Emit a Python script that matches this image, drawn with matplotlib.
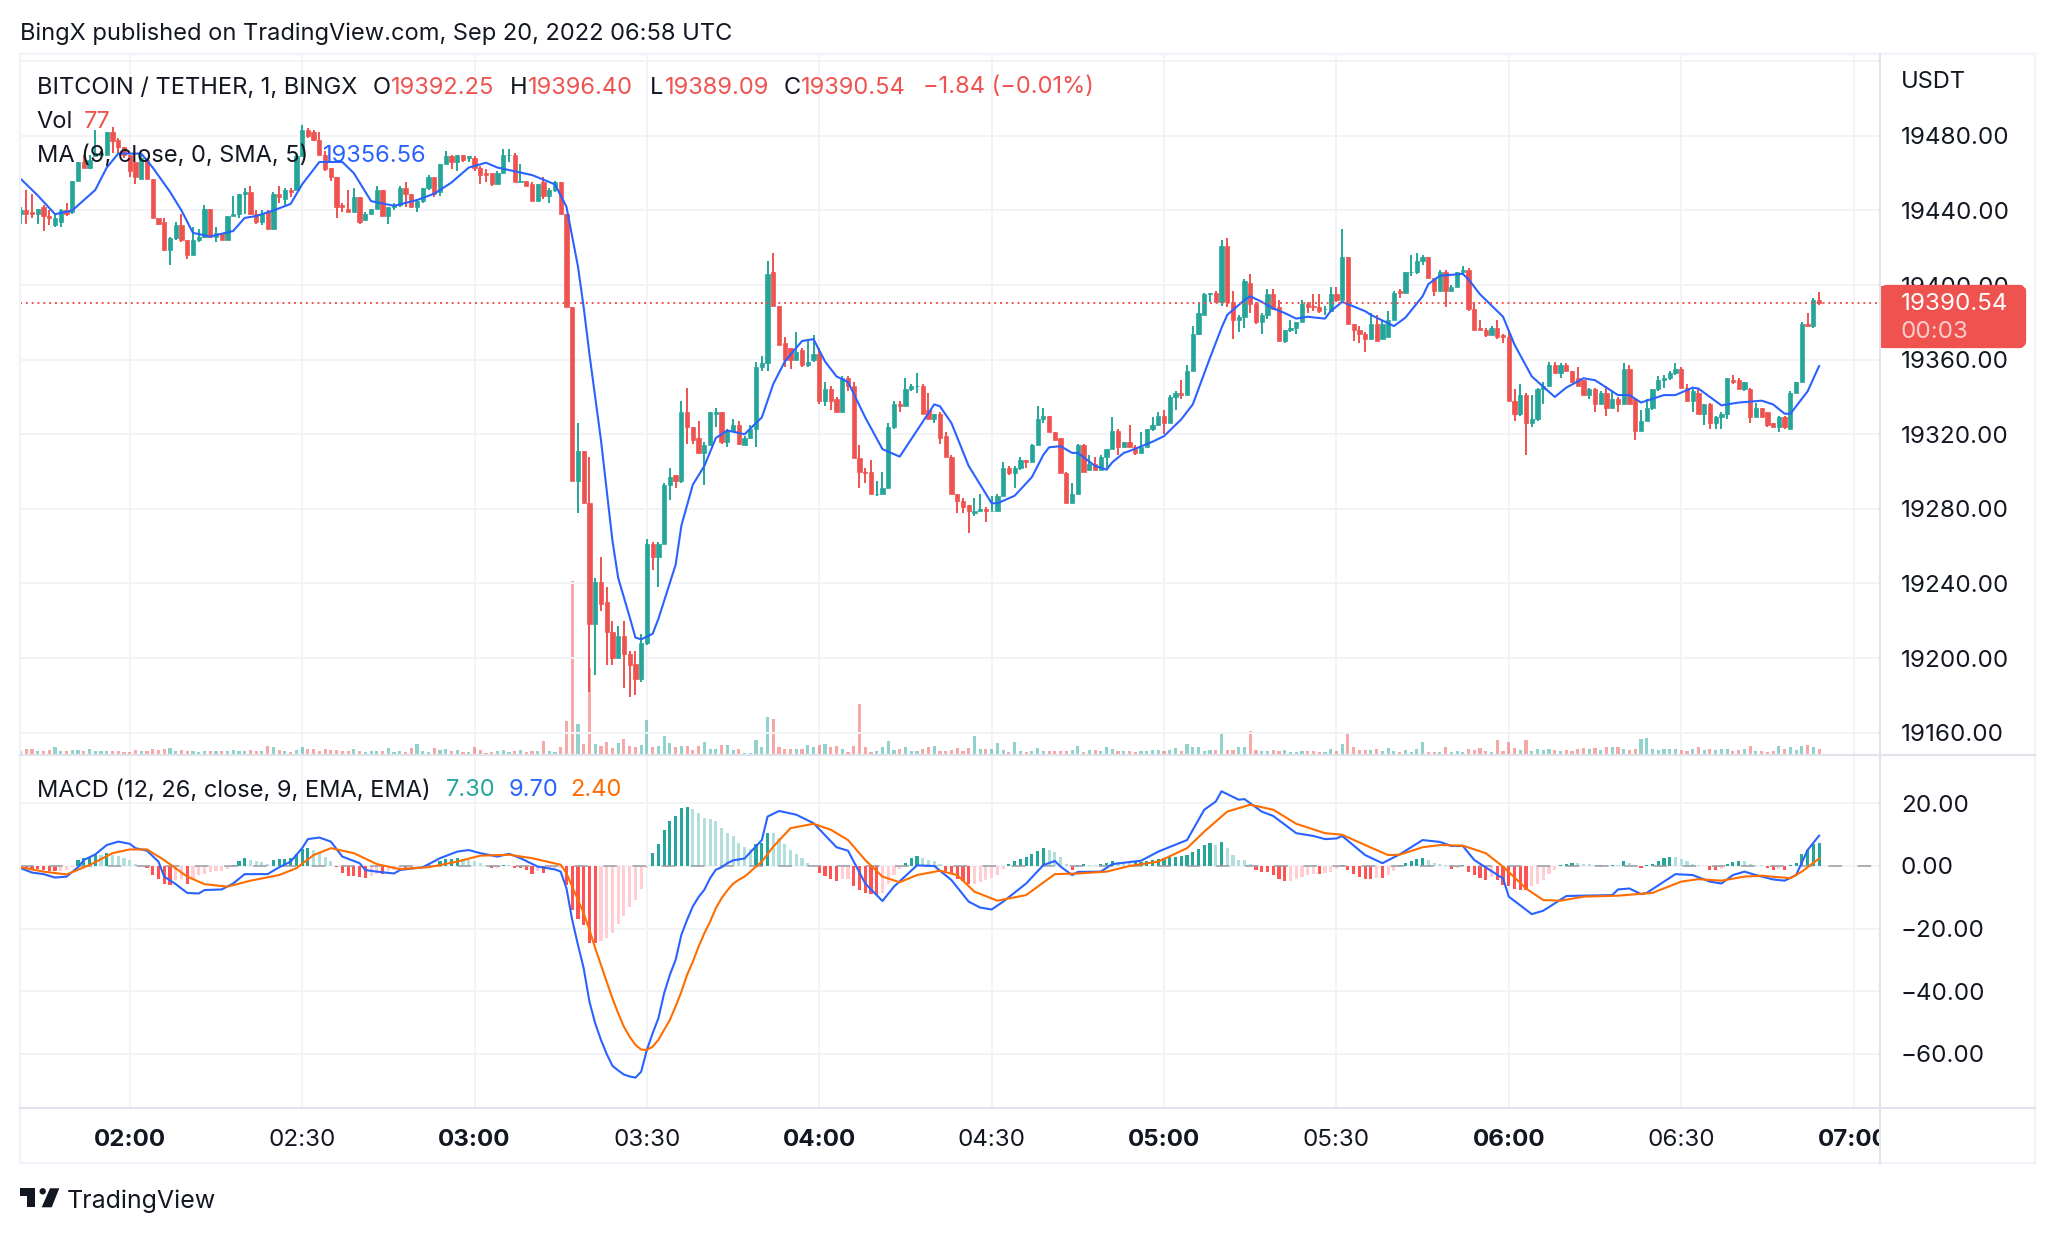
import numpy as np
import matplotlib
matplotlib.use('Agg')
import matplotlib.pyplot as plt
from matplotlib.patches import Rectangle, Polygon, Circle, FancyBboxPatch

plt.rcParams['font.family'] = ['Inter', 'DejaVu Sans']

# candles, one per minute, minutes counted from 02:00
first_minute = -19
opens = [
    19438,19440,19439,19438,19442,19437,19432,19434,19440,19439,
    19456,19466,19463,19469,19470,19470,19482,19478,19474,19470,
    19466,19457,19467,19457,19436,19434,19419,19425,19432,19424,
    19416,19424,19426,19441,19426,19428,19424,19437,19438,19449,
    19450,19438,19434,19439,19430,19449,19446,19451,19451,19469,
    19483,19482,19478,19470,19463,19458,19443,19441,19439,19447,
    19435,19438,19441,19451,19437,19442,19443,19452,19449,19442,
    19445,19452,19458,19450,19465,19469,19466,19470,19468,19468,
    19463,19460,19460,19454,19460,19470,19470,19455,19456,19454,
    19445,19455,19448,19451,19455,19438,19388,19295,19311,19283,
    19218,19241,19230,19214,19200,19212,19202,19197,19189,19208,
    19261,19254,19261,19293,19298,19295,19332,19324,19318,19310,
    19314,19331,19332,19316,19322,19325,19314,19318,19323,19356,
    19358,19407,19389,19369,19366,19360,19365,19357,19360,19363,
    19338,19344,19339,19332,19350,19346,19307,19300,19300,19288,
    19288,19291,19324,19336,19335,19344,19346,19346,19333,19328,
    19331,19319,19308,19288,19284,19282,19278,19279,19280,19279,
    19279,19287,19302,19299,19302,19306,19305,19314,19328,19330,
    19321,19318,19299,19283,19288,19314,19301,19304,19301,19308,
    19312,19322,19313,19316,19313,19310,19313,19323,19325,19330,
    19326,19340,19342,19341,19354,19374,19384,19395,19396,19391,
    19421,19391,19381,19383,19401,19390,19380,19384,19395,19388,
    19370,19376,19377,19380,19390,19389,19388,19387,19386,19395,
    19392,19415,19379,19376,19374,19371,19379,19371,19372,19381,
    19397,19396,19407,19407,19413,19415,19404,19397,19407,19397,
    19399,19407,19408,19387,19377,19376,19373,19377,19373,19372,
    19338,19331,19341,19326,19328,19344,19346,19357,19353,19357,
    19354,19350,19349,19341,19344,19336,19342,19334,19339,19336,
    19355,19339,19322,19327,19334,19344,19349,19350,19353,19355,
    19345,19338,19342,19331,19336,19326,19329,19331,19349,19349,
    19344,19344,19329,19334,19332,19326,19324,19329,19323,19342,
    19348,19379,19378,19392.25]
closes = [
    19440,19438,19438,19441,19437,19436,19436,19440,19438,19456,
    19466,19463,19467,19471,19471,19482,19477,19474,19470,19461,
    19458,19468,19457,19436,19433,19419,19425,19432,19424,19416,
    19424,19426,19441,19426,19428,19424,19437,19438,19449,19450,
    19438,19434,19438,19430,19449,19447,19451,19450,19469,19483,
    19480,19478,19470,19462,19458,19442,19442,19439,19447,19434,
    19438,19441,19451,19437,19442,19443,19452,19449,19442,19445,
    19452,19458,19449,19465,19469,19466,19470,19467,19469,19463,
    19459,19459,19454,19460,19470,19470,19455,19456,19453,19445,
    19454,19448,19451,19455,19438,19388,19295,19311,19283,19218,
    19241,19229,19214,19200,19212,19202,19196,19189,19208,19261,
    19254,19261,19293,19297,19295,19332,19324,19317,19310,19314,
    19332,19332,19316,19322,19325,19315,19318,19323,19356,19358,
    19406,19389,19368,19360,19360,19364,19357,19359,19363,19338,
    19344,19338,19332,19350,19346,19307,19300,19299,19288,19288,
    19291,19324,19336,19335,19344,19346,19346,19331,19328,19331,
    19318,19308,19288,19284,19281,19279,19279,19280,19279,19279,
    19287,19302,19299,19302,19306,19305,19314,19328,19330,19321,
    19317,19299,19283,19288,19314,19300,19304,19301,19308,19312,
    19322,19313,19316,19313,19310,19313,19323,19325,19330,19326,
    19340,19342,19341,19354,19374,19385,19395,19396,19391,19421,
    19391,19381,19383,19402,19390,19380,19384,19395,19387,19370,
    19376,19377,19380,19390,19388,19388,19386,19387,19395,19392,
    19415,19379,19376,19374,19371,19379,19370,19379,19381,19396,
    19396,19407,19407,19413,19415,19404,19397,19407,19397,19399,
    19407,19408,19387,19376,19376,19373,19377,19372,19372,19338,
    19331,19341,19326,19328,19344,19346,19357,19353,19357,19354,
    19348,19346,19341,19344,19336,19342,19334,19339,19336,19355,
    19336,19322,19327,19334,19344,19349,19350,19353,19355,19345,
    19338,19343,19331,19336,19326,19329,19331,19350,19348,19344,
    19348,19329,19334,19329,19325,19324,19329,19324,19342,19348,
    19379,19378,19392,19390.54]
highs = [
    19442,19451,19449,19441,19443,19440,19438,19441,19444,19456,
    19466,19470,19470,19483,19472,19482,19485,19479,19474,19470,
    19466,19470,19468,19457,19436,19436,19426,19434,19438,19424,
    19431,19430,19443,19441,19431,19428,19437,19448,19449,19452,
    19453,19440,19440,19440,19450,19453,19452,19452,19470,19486,
    19484,19483,19482,19472,19463,19458,19444,19451,19452,19447,
    19439,19441,19453,19451,19442,19444,19453,19455,19449,19446,
    19452,19459,19458,19465,19472,19470,19470,19470,19469,19469,
    19464,19462,19460,19461,19473,19473,19471,19465,19456,19455,
    19454,19458,19452,19456,19455,19438,19388,19326,19311,19308,
    19243,19254,19238,19220,19217,19220,19204,19204,19213,19264,
    19262,19262,19294,19302,19298,19338,19345,19324,19327,19316,
    19332,19334,19332,19323,19328,19327,19319,19325,19359,19362,
    19413,19417,19389,19372,19366,19375,19366,19370,19373,19366,
    19348,19346,19340,19351,19351,19348,19314,19302,19306,19295,
    19300,19326,19338,19338,19350,19347,19353,19347,19342,19331,
    19332,19321,19309,19288,19286,19282,19286,19288,19281,19287,
    19288,19305,19303,19303,19308,19306,19315,19335,19334,19330,
    19321,19318,19300,19294,19315,19315,19309,19308,19309,19312,
    19329,19323,19316,19325,19314,19321,19323,19329,19332,19333,
    19341,19343,19349,19357,19378,19391,19396,19396,19397,19424,
    19425,19397,19384,19403,19406,19391,19385,19398,19398,19392,
    19376,19381,19380,19392,19391,19395,19395,19389,19399,19399,
    19430,19415,19379,19378,19375,19385,19384,19381,19386,19397,
    19398,19407,19416,19417,19416,19415,19404,19408,19408,19400,
    19407,19410,19409,19391,19381,19377,19378,19381,19374,19376,
    19344,19347,19342,19341,19345,19348,19359,19359,19358,19358,
    19354,19356,19349,19345,19345,19343,19346,19343,19340,19358,
    19357,19339,19333,19339,19344,19351,19352,19354,19358,19356,
    19347,19344,19345,19336,19337,19330,19332,19350,19352,19350,
    19348,19345,19337,19334,19332,19326,19330,19330,19343,19348,
    19380,19385,19393,19396.4]
lows = [
    19433,19433,19436,19433,19429,19432,19431,19431,19437,19438,
    19456,19463,19462,19469,19469,19470,19471,19471,19468,19458,
    19454,19457,19457,19436,19432,19418,19411,19424,19423,19414,
    19416,19423,19425,19426,19423,19424,19424,19437,19436,19438,
    19438,19433,19432,19430,19430,19444,19443,19447,19451,19469,
    19479,19477,19470,19461,19456,19436,19439,19439,19439,19433,
    19435,19438,19441,19437,19433,19440,19442,19442,19442,19439,
    19444,19451,19447,19448,19465,19462,19461,19466,19466,19461,
    19454,19455,19453,19454,19460,19466,19455,19455,19453,19445,
    19445,19446,19444,19450,19438,19388,19295,19278,19283,19182,
    19191,19225,19196,19196,19200,19184,19179,19180,19187,19207,
    19247,19238,19261,19285,19291,19294,19315,19315,19310,19293,
    19314,19324,19315,19313,19321,19314,19314,19318,19313,19354,
    19354,19389,19368,19356,19355,19360,19356,19356,19359,19336,
    19335,19333,19332,19332,19343,19307,19291,19294,19288,19287,
    19288,19291,19323,19332,19335,19343,19342,19331,19328,19326,
    19315,19308,19288,19278,19278,19267,19276,19279,19273,19279,
    19279,19287,19298,19291,19301,19302,19305,19314,19326,19321,
    19317,19299,19283,19283,19288,19300,19301,19301,19301,19301,
    19312,19309,19313,19313,19309,19310,19313,19322,19325,19320,
    19326,19333,19339,19341,19354,19373,19384,19391,19391,19389,
    19388,19371,19375,19377,19385,19379,19374,19382,19387,19370,
    19369,19375,19374,19380,19385,19386,19385,19384,19386,19391,
    19392,19379,19370,19369,19364,19371,19370,19371,19372,19381,
    19393,19396,19405,19406,19411,19404,19394,19397,19388,19397,
    19399,19406,19386,19376,19376,19372,19373,19371,19369,19338,
    19327,19330,19309,19324,19327,19336,19346,19353,19350,19354,
    19348,19346,19341,19339,19332,19336,19330,19334,19332,19336,
    19336,19317,19322,19327,19333,19343,19345,19349,19352,19345,
    19338,19332,19331,19325,19323,19323,19323,19328,19347,19344,
    19343,19326,19329,19329,19324,19324,19321,19323,19323,19342,
    19348,19378,19377,19389.09]
volumes = [
    52,77,77,52,52,65,103,52,52,65,
    65,52,77,52,52,52,52,52,39,39,
    65,52,52,77,65,77,90,52,65,52,
    52,39,52,52,52,52,52,65,52,52,
    65,52,52,116,103,65,52,39,65,103,
    77,77,52,77,65,65,52,52,77,52,
    39,52,52,52,90,39,52,39,90,142,
    52,39,90,65,77,52,65,39,39,103,
    65,26,39,52,65,39,52,65,39,52,
    48,180,48,38,105,437,2232,399,143,1116,
    143,119,166,95,152,200,119,105,128,451,
    105,119,247,152,105,119,119,62,119,162,
    71,81,128,128,62,71,29,29,190,105,
    489,466,105,71,71,71,71,124,105,124,
    143,105,114,71,38,119,656,105,38,48,
    105,181,62,71,105,57,57,71,105,119,
    48,57,62,86,57,86,247,71,71,71,
    152,65,39,168,52,39,52,90,52,52,
    52,52,52,65,116,39,65,65,52,103,
    77,52,52,52,39,52,52,65,65,52,
    65,90,52,142,103,103,52,65,65,271,
    65,65,103,103,310,65,52,52,65,52,
    65,39,39,52,52,52,39,39,77,52,
    142,271,103,65,65,65,77,52,90,52,
    39,65,39,77,168,39,39,39,103,39,
    52,39,77,65,90,52,39,194,52,168,
    90,65,194,52,77,65,77,65,52,65,
    52,77,90,77,90,65,103,103,103,77,
    65,77,206,219,77,65,77,77,77,65,
    52,77,103,65,77,65,77,77,52,65,
    77,116,52,52,39,52,116,77,103,65,
    116,129,103,77]
macd_hist = [
    -0.8,-0.9,-1,-1,-1.2,-1.5,-1.6,-1.5,-1.2,-0.3,
    2,2.6,3,3.5,3.4,4.2,3.4,3.2,2.5,1.8,
    0.5,0.3,-0.5,-2.9,-4.2,-5.8,-6,-4.5,-4,-5.8,
    -4.5,-3,-2.5,-1.8,-1.7,-1.5,-1,0.3,1.7,2.4,
    2,1.6,1.2,0.5,1.8,2.2,2.3,2.6,3.8,5.5,
    5.6,5,4,2.9,1.5,-0.2,-2.2,-3.3,-3.3,-3.5,
    -3.9,-3.2,-2.4,-2.7,-1.5,-1.2,-1,-1,-0.8,-0.5,
    0,0.3,0.3,1.5,2.1,2.3,2.5,2.2,1.9,1.7,
    0.8,0.4,-0.7,-0.6,0.2,0.2,-0.5,-0.8,-1.2,-2.4,
    -1.7,-2.3,-1,-0.8,-0.5,-6,-14,-17,-19,-24.5,
    -24.5,-24,-23,-21.5,-18.5,-16,-13,-11,-7.5,-0.5,
    4,7,11.5,14.5,16,18.5,19,18.3,17,15.3,
    14.9,14.3,12,10.5,9.5,7.5,6.2,5.5,6.9,7.3,
    10.7,10.6,9,7,5.2,3.8,2.4,1,0.2,-2.2,
    -3.3,-4.3,-4.9,-4.2,-4,-6.4,-7.6,-8.5,-8.9,-9.3,
    -8.6,-5.8,-3,-1,1,2.6,3.2,2.6,2,1.6,
    0.6,-1.7,-2.4,-4.2,-4.9,-5.9,-5.6,-5,-4.6,-3.9,
    -2.8,-1,0.6,1.5,2.3,3,3.7,4.9,5.6,5,
    4.5,2.8,0.5,-1.2,0.4,0.5,0.4,0.2,0.5,1,
    1.5,1.2,1,1,1.2,1.3,1.6,1.9,2.1,2.6,
    2.8,3,3.1,3.6,4.6,5.5,6.6,7.2,6.8,7.8,
    5.6,3.5,2,2,0.7,-1.2,-1.9,-2,-2.9,-4.1,
    -4.9,-4.8,-4,-3.4,-2.9,-2.7,-2.7,-2.2,-1.9,-1,
    0.4,-1.2,-2.7,-3.6,-4,-4,-3.8,-3.8,-3,-1.5,
    0.3,1,1.5,2.3,2.6,2,1,0.5,0.2,-0.9,
    -0.5,0.3,-1.8,-3,-3.7,-4.5,-3.5,-4.5,-6,-6.5,
    -7.5,-7.7,-7.8,-6.5,-5.8,-4.5,-2.7,-1.3,0.3,0.7,
    1,1,0.5,0.5,0.2,0.4,0.1,0.3,0.2,1.5,
    1,0.3,-0.7,0.2,0.7,1.7,2.4,2.9,2.8,2.3,
    1.5,0.7,0.3,0.1,-1.2,-1.4,-1.1,0.7,1.3,1.5,
    1.5,0.6,0.4,0.2,-0.5,-1.2,-1,-1.2,0.3,0.9,
    3.7,5,7,7.3]

# lines read at their bends
ma_minutes = [-19,-16,-13,-10,-6,-4,-2,2,4,7,9,11,14,18,20,22,25,28,30,33,37,39,42,46,50,53,56,59,62,64,70,74,
              76,78,79,80,82,84,85,87,88,89,91,92,95,96,98,100,102,104,107,110,112,114,117,119,121,123,125,128,
              131,134,140,141,143,146,150,151,154,157,159,160,162,164,165,168,170,171,173,174,178,180,183,185,
              188,190,191,194,195,197,199,201,203,205,208,209,211,215,216,220,222,225,226,228,232,233,235,239,
              241,244,248,250,253,255,259,261,263,267,269,272,273,277,280,284,286,288,289,292,294]
ma_values = [19457,19448,19438,19440,19451,19463,19470.5,19470.5,19463,19450,19440,19428,19426,19429,19436,19437,
             19440,19443.5,19454,19466,19466,19460,19445,19442.5,19445.6,19449,19455,19463,19465.6,19463,19459,19454,
             19442,19410,19388,19363,19317,19263,19243,19222,19211,19210,19213,19221,19250,19271,19293,19303,19318,
             19322,19320,19329,19347,19359,19370,19371,19359,19351,19348,19329,19312,19308,19336,19335,19326,19303,
             19283,19283,19287,19297,19309,19313,19313.6,19310,19310,19303,19301,19305,19310,19311,19316,19319,19328,
             19336,19361,19377,19384,19392,19394,19391,19387.5,19385,19382,19383,19382,19386,19391,19386,19384,19378,
             19382.5,19394,19400.5,19405,19406,19403,19395,19383,19368,19351,19340,19345,19350,19349,19341,19341,
             19337,19341,19341,19345,19344.5,19335.5,19337,19338,19336,19331,19331,19343,19356.56]
macd_minutes = [-19,-17,-15,-13,-11,-9,-8,-6,-4,-2,0,1,3,5,6,8,10,12,13,16,18,20,24,26,28,30,31,33,35,37,40,41,43,46,47,
                51,54,57,59,61,64,66,68,71,74,75,76,77,78,79,80,81,82,83,84,85,86,87,88,89,90,91,92,93,94,95,96,97,98,
                99,100,101,102,103,104,105,107,110,111,113,116,
                119,123,125,128,131,133,137,140,143,146,148,150,152,156,159,161,162,164,165,169,171,176,179,184,187,
                189,190,193,194,197,199,203,206,208,210,211,215,218,221,225,228,230,232,234,239,240,244,246,250,258,
                259,261,263,264,269,272,275,277,279,281,283,286,288,290,292,294]
macd_values = [-0.7,-2.1,-2.6,-3.7,-3.4,-0.4,1.9,3.7,6.7,7.8,7.1,5.7,4.9,1.4,-3.4,-5.8,-8.6,-8.8,-7.7,-7.5,-5.6,-2.6,-2.6,
               -0.4,1.4,5.7,8.6,9.1,7.8,3,0.9,-1.3,-1.8,-2.4,-1.3,-0.4,2.5,4.6,5.1,4.1,3,3.9,2.5,-0.2,-1.1,
               -1.8,-7.1,-17.2,-25.2,-32.7,-43.4,-50.3,-55.6,-60.1,-63.9,-65.4,-66.7,-67.3,-67.7,-65.8,-58.8,-53.5,-48.7,
               -40.7,-34.8,-30,-22,-17.2,-12.9,-9.9,-7.6,-3.9,-1.2,-0.4,0.9,1.8,2.4,8.3,15.8,17.6,16.4,
               13.7,6,4.9,-5.6,-11.2,-6.6,0.2,0,-4.5,-11.4,-13.3,-13.9,-11.4,-5.6,0.3,1.6,-0.2,-2.9,-1.9,-1.8,0.6,1.7,
               4.6,8.3,18,20.6,23.9,21.2,21.4,17.4,16,10.5,9.6,8.6,8.8,9.6,3.5,0.9,3.7,8.3,7.7,6.4,6.4,1.9,-4,-9.8,
               -15.4,-14.3,-9.6,-9.3,-7.5,-7.2,-9,-8.6,-2.6,-2.9,-5,-5.6,-2.9,-1.8,-2.9,-4.3,-4.7,-2.9,5.1,9.7]
signal_minutes = [-19,-15,-11,-7,-3,0,3,6,10,13,17,21,26,29,32,35,39,43,47,52,57,61,66,70,
                  75,76,77,78,79,80,81,82,83,84,85,86,87,88,89,90,91,92,93,94,95,96,97,98,99,100,101,102,103,104,105,
                  106,107,108,109,110,112,115,119,122,125,128,131,134,137,141,144,147,151,156,161,165,170,174,179,184,187,191,
                  195,199,203,208,211,215,219,221,225,228,232,236,239,243,246,249,253,259,265,270,273,277,281,284,289,
                  291,294]
signal_values = [-0.4,-1.8,-2.7,0.3,4.1,5.3,5.3,1.9,-3.4,-5.8,-6.6,-4.7,-2.9,-0.7,3.5,5.7,4.1,0.6,-1,-0.4,1.4,3.3,3.6,2.5,
                 0.4,-2.3,-6.6,-10.8,-15.1,-20.4,-26.3,-31.6,-37,-42.3,-47.1,-51.4,-54.6,-57.2,-58.7,-58.8,-57.8,-55.6,
                 -52.4,-49.2,-44.9,-40.2,-34.8,-30.6,-25.8,-21.5,-17.8,-13.5,-10.3,-7.8,-5.7,-4.4,-3.4,-1.8,-0.2,1.4,
                 6.2,12.1,13.5,11.6,8.3,1.9,-3.4,
                 -5.2,-2.9,-1.5,-2.9,-8.2,-11.1,-9.3,-2.6,-2.4,-1.8,0,1.4,5.7,11,17.4,19.6,18,13.5,10.5,10,6.7,3.5,3.6,
                 6,6.7,6.5,4.1,-0.2,-7.2,-10.9,-11.1,-9.8,-9.5,-8.6,-5,-4.2,-4.7,-3.4,-3.1,-3.9,-1.8,2.4]

price_ticks = [19520,19480,19440,19400,19360,19320,19280,19240,19200,19160]
price_labels = ['','19480.00','19440.00','19400.00','19360.00','19320.00','19280.00','19240.00','19200.00','19160.00']
macd_ticks = [20,0,-20,-40,-60]
macd_labels = ['20.00','0.00','\u221220.00','\u221240.00','\u221260.00']
time_ticks = [0,30,60,90,120,150,180,210,240,270,300]
time_labels = ['02:00','02:30','03:00','03:30','04:00','04:30','05:00','05:30','06:00','06:30','07:00']

GREEN = '#26a69a'
RED = '#ef5350'
BLUE = '#2962ff'
ORANGE = '#ff6d00'
TEXT = '#131722'
GRID = '#f2f3f6'
LINE = '#e0e3eb'
FS = 17
FS_AXIS = 17.4
W, H = 2056, 1234


def px_axes(fig, x0, y0, x1, y1, **kw):
    # axes from pixel box, y measured from the top
    return fig.add_axes([x0/W, 1-y1/H, (x1-x0)/W, (y1-y0)/H], **kw)


def clean(ax):
    for s in ax.spines.values():
        s.set_visible(False)


fig = plt.figure(figsize=(W/100, H/100), dpi=100, facecolor='white')

minutes = np.arange(first_minute, first_minute+len(closes))
o = np.array(opens); c = np.array(closes); hi = np.array(highs); lo = np.array(lows)
up = c >= o
candle_colors = [GREEN if u else RED for u in up]
xlim = (-19.1, 304.6)

# volume sits under the candles in the same box
ax_vol = px_axes(fig, 20, 54, 1880, 755, zorder=1)
clean(ax_vol)
ax_vol.bar(minutes, volumes, width=0.55, color=candle_colors, alpha=0.5, linewidth=0)
ax_vol.set_xlim(xlim)
ax_vol.set_ylim(0, 8970)
ax_vol.set_xticks(time_ticks)
ax_vol.set_xticklabels([])
ax_vol.set_yticks([])
ax_vol.tick_params(length=0)
ax_vol.grid(axis='x', color=GRID, lw=1.4)
ax_vol.set_axisbelow(True)

ax = px_axes(fig, 20, 54, 1880, 755, zorder=2)
ax.patch.set_visible(False)
clean(ax)
ax.set_xlim(xlim)
ax.set_ylim(19148, 19523.9)
ax.yaxis.tick_right()
ax.set_yticks(price_ticks)
ax.set_yticklabels(price_labels, fontsize=FS_AXIS, color=TEXT)
ax.tick_params(axis='y', length=0, pad=15)
ax.set_xticks([])
for t in price_ticks:
    ax.axhline(t, color=GRID, lw=1.4, zorder=0)
ax.vlines(minutes, lo, hi, colors=candle_colors, lw=1.4, zorder=2)
ax.bar(minutes, np.abs(c-o), bottom=np.minimum(o, c), width=0.74, color=candle_colors,
       edgecolor=candle_colors, linewidth=0.5, zorder=3)
ax.plot(ma_minutes, ma_values, color=BLUE, lw=1.5, zorder=4)
ax.axhline(closes[-1], color=RED, lw=1.4, ls=(0, (1, 2)), zorder=4)

# MACD pane
ax2 = px_axes(fig, 20, 755, 1880, 1108, zorder=2)
clean(ax2)
ax2.set_xlim(xlim)
ax2.set_ylim(-77.4, 35.5)
ax2.yaxis.tick_right()
ax2.set_yticks(macd_ticks)
ax2.set_yticklabels(macd_labels, fontsize=FS_AXIS, color=TEXT)
ax2.tick_params(axis='y', length=0, pad=15)
ax2.set_xticks(time_ticks)
ax2.set_xticklabels([])
ax2.tick_params(axis='x', length=0)
ax2.grid(color=GRID, lw=1.4)
ax2.set_axisbelow(True)
hist_colors = []
prev = macd_hist[0]
for v in macd_hist:
    if v >= 0:
        hist_colors.append(GREEN if v > prev else '#b2dfdb')
    else:
        hist_colors.append('#ffcdd2' if v > prev else '#ff5252')
    prev = v
ax2.bar(minutes, macd_hist, width=0.55, color=hist_colors, linewidth=0, zorder=2)
ax2.axhline(0, color='#9a9da6', lw=1.4, ls=(0, (7, 8)), alpha=0.8, zorder=3)
ax2.plot(macd_minutes, macd_values, color=BLUE, lw=1.5, zorder=4)
ax2.plot(signal_minutes, signal_values, color=ORANGE, lw=1.5, zorder=5)

# time axis, labels are clipped by the price scale like in the original
ax3 = px_axes(fig, 20, 1108, 1880, 1163, zorder=2)
clean(ax3)
ax3.set_xlim(xlim)
ax3.set_ylim(0, 1)
ax3.set_xticks([])
ax3.set_yticks([])
for t, lab in zip(time_ticks, time_labels):
    ax3.text(t, 0.425, lab, ha='center', va='center', fontsize=FS_AXIS, color=TEXT, clip_on=True,
             fontweight='bold' if lab.endswith(':00') else 'normal')

# overlay in pixels for the frame, price tag, legends and logo
ov = fig.add_axes([0, 0, 1, 1], zorder=10)
ov.set_xlim(0, W)
ov.set_ylim(H, 0)
ov.axis('off')
ov.patch.set_visible(False)
ov.add_patch(Rectangle((20, 54), 2015, 1109, fill=False, ec='#f0f3fa', lw=1.6))
ov.plot([1880, 1880], [54, 1163], color=LINE, lw=1.5)
ov.plot([20, 2035], [755, 755], color=LINE, lw=1.5)
ov.plot([20, 2035], [1108, 1108], color=LINE, lw=1.5)
ov.add_patch(FancyBboxPatch((1884, 289), 138, 55, boxstyle='round,pad=0,rounding_size=3', fc=RED, ec=RED, lw=6))
ov.add_patch(Rectangle((1881, 286), 10, 61.5, fc=RED, ec='none'))
ov.text(1901, 304, '{:.2f}'.format(closes[-1]), color='white', fontsize=FS_AXIS, va='center')
ov.text(1901, 332, '00:03', color='white', alpha=0.7, fontsize=FS_AXIS, va='center')
ov.text(1901, 82.5, 'USDT', color=TEXT, fontsize=FS, va='center')

ov.text(20, 34, 'BingX published on TradingView.com, Sep 20, 2022 06:58 UTC', color=TEXT, fontsize=FS, va='center')

legend_top = [(36.7, 'BITCOIN / TETHER, 1, BINGX', TEXT), (372.4, 'O', TEXT), (390.7, '19392.25', RED),
              (510, 'H', TEXT), (528.4, '19396.40', RED), (650, 'L', TEXT), (664.8, '19389.09', RED),
              (784, 'C', TEXT), (801, '19390.54', RED), (923, '\u22121.84 (\u22120.01%)', RED)]
for x, s, col in legend_top:
    ov.text(x, 87.5, s, color=col, fontsize=FS, va='center')
ov.text(36.7, 121.5, 'Vol', color=TEXT, fontsize=FS, va='center')
ov.text(84, 121.5, '77', color=RED, fontsize=FS, va='center')
ov.text(36.7, 155.5, 'MA (9, close, 0, SMA, 5)', color=TEXT, fontsize=FS, va='center')
ov.text(322.5, 155.5, '19356.56', color=BLUE, fontsize=FS, va='center')
ov.text(36.7, 790.5, 'MACD (12, 26, close, 9, EMA, EMA)', color=TEXT, fontsize=FS, va='center')
ov.text(445.8, 790.5, '7.30', color=GREEN, fontsize=FS, va='center')
ov.text(508.7, 790.5, '9.70', color=BLUE, fontsize=FS, va='center')
ov.text(570, 790.5, '2.40', color=ORANGE, fontsize=FS, va='center')

# TradingView logo
ov.add_patch(Polygon([(20, 1188.3), (35, 1188.3), (35, 1207.3), (27.3, 1207.3), (27.3, 1195.7), (20, 1195.7)], fc=TEXT, ec='none'))
ov.add_patch(Circle((42.7, 1191.3), 3.2, fc=TEXT, ec='none'))
ov.add_patch(Polygon([(50, 1188.3), (59.3, 1188.3), (51.7, 1207.3), (41.7, 1207.3)], fc=TEXT, ec='none'))
ov.text(67, 1201.5, 'TradingView', color=TEXT, fontsize=18, va='center')

fig.savefig('out.png', dpi=100)
